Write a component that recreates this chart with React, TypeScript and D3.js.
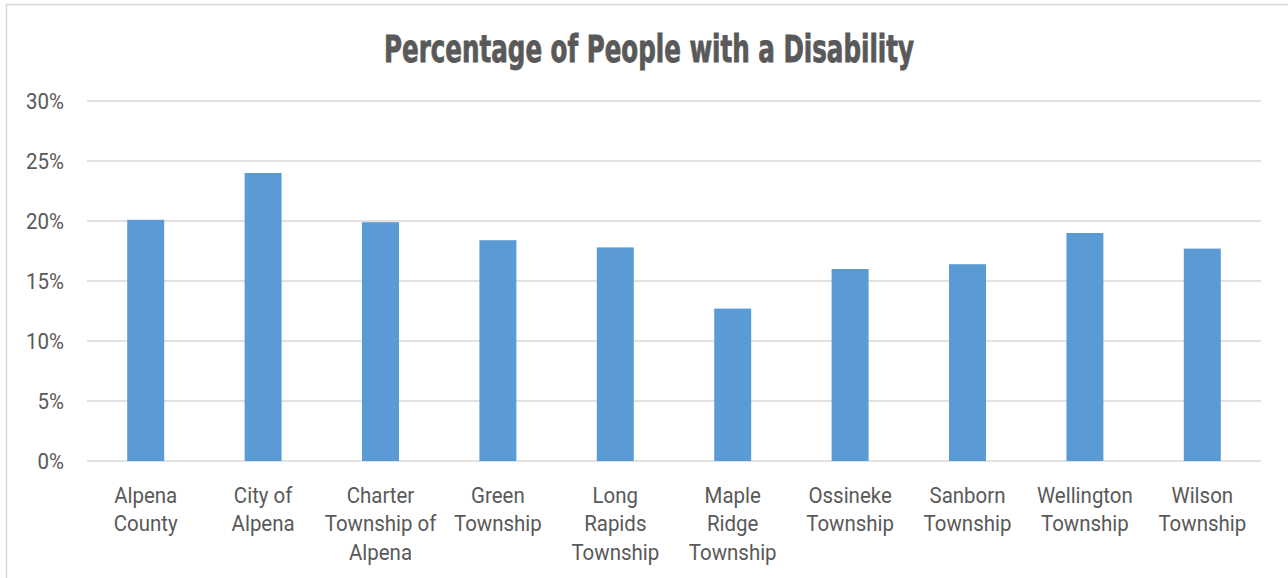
import React from "react";
import * as d3 from "d3";

const categories: string[][] = [
  ["Alpena", "County"],
  ["City of", "Alpena"],
  ["Charter", "Township of", "Alpena"],
  ["Green", "Township"],
  ["Long", "Rapids", "Township"],
  ["Maple", "Ridge", "Township"],
  ["Ossineke", "Township"],
  ["Sanborn", "Township"],
  ["Wellington", "Township"],
  ["Wilson", "Township"],
];
const values: number[] = [20.1, 24.0, 19.9, 18.4, 17.8, 12.7, 16.0, 16.4, 19.0, 17.7];
const yTicks: number[] = [0, 5, 10, 15, 20, 25, 30];
const title = "Percentage of People with a Disability";

const W = 1288;
const H = 578;
const plot = { left: 87, right: 1261, top: 101, bottom: 461 };
const labelFont = "Roboto, 'Liberation Sans', Arial, sans-serif";
const SX = 0.93;

export default function App() {
  const keys = categories.map((c) => c.join(" "));
  const x = d3.scaleBand<string>().domain(keys).range([plot.left, plot.right]).paddingInner(0.685).paddingOuter(0.3425);
  const y = d3.scaleLinear().domain([0, 30]).range([plot.bottom, plot.top]);

  return (
    <svg width={W} height={H} style={{ position: "absolute", left: 0, top: 0, background: "#fff" }}>
      <line x1={6.5} y1={4.5} x2={6.5} y2={H} stroke="#d9d9d9" strokeWidth={1.5} />
      <line x1={6} y1={4.5} x2={W} y2={4.5} stroke="#d9d9d9" strokeWidth={1.5} />
      <text
        x={649}
        y={62}
        textAnchor="middle"
        fontFamily="'DejaVu Sans Condensed', 'DejaVu Sans', sans-serif"
        fontWeight="bold"
        fontSize={37}
        fill="#595959"
        stroke="#595959"
        strokeWidth={0.8}
        textLength={530}
        lengthAdjust="spacingAndGlyphs"
      >
        {title}
      </text>
      {yTicks.map((t) => (
        <g key={t}>
          <line x1={plot.left} x2={plot.right} y1={y(t)} y2={y(t)} stroke="#d9d9d9" strokeWidth={1.5} />
          <g transform={`translate(64,${y(t)}) scale(${SX},1)`}>
            <text x={0} y={0} dy="0.36em" textAnchor="end" fontFamily={labelFont} fontSize={22} fill="#595959">
              {t}%
            </text>
          </g>
        </g>
      ))}
      {keys.map((k, i) => (
        <rect key={k} x={x(k)} y={y(values[i])} width={x.bandwidth()} height={y(0) - y(values[i])} fill="#5b9bd5" />
      ))}
      {keys.map((k, i) => (
        <g key={k} transform={`translate(${(x(k) as number) + x.bandwidth() / 2},502.5) scale(${SX},1)`}>
          <text x={0} y={0} textAnchor="middle" fontFamily={labelFont} fontSize={22} fill="#595959">
            {categories[i].map((line, j) => (
              <tspan key={j} x={0} dy={j === 0 ? 0 : 29}>
                {line}
              </tspan>
            ))}
          </text>
        </g>
      ))}
    </svg>
  );
}
